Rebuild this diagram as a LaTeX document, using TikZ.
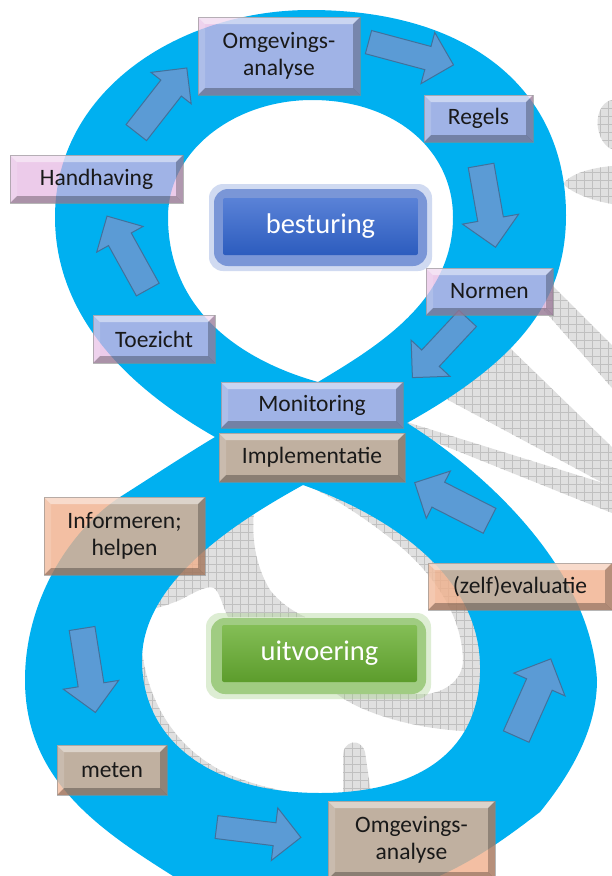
\documentclass[tikz,border=0pt]{standalone}
\usepackage{fontspec}
\setmainfont{Carlito}
\usetikzlibrary{shapes.arrows,patterns.meta}
\definecolor{cyan8}{HTML}{00B0F0}
\definecolor{lilac}{RGB}{229,181,226}
\definecolor{tanbox}{RGB}{240,176,140}
\definecolor{arrowfill}{HTML}{5B9BD5}
\definecolor{arrowline}{HTML}{41719C}
\definecolor{wmfill}{RGB}{224,224,224}
\definecolor{wmline}{RGB}{192,192,192}
\definecolor{bsglow}{RGB}{122,150,215}
\definecolor{bstop}{RGB}{90,130,215}
\definecolor{bsbot}{RGB}{44,92,190}
\definecolor{uvglow}{RGB}{160,204,130}
\definecolor{uvtop}{RGB}{132,190,86}
\definecolor{uvbot}{RGB}{92,156,44}
\newcommand\boxfont{\fontsize{23.5}{27.5}\selectfont}
\newcommand\bigfont{\fontsize{28.5}{32}\selectfont}
\tikzset{
 wm/.style={fill=wmfill,
   postaction={pattern={Lines[distance=8pt,angle=0,line width=0.6pt]},pattern color=wmline},
   postaction={pattern={Lines[distance=8pt,angle=90,line width=0.6pt]},pattern color=wmline}},
 bevel/.style={path picture={
   \fill[white,opacity=.45] (path picture bounding box.north west) -- (path picture bounding box.north east)
     -- ([xshift=-7pt,yshift=-7pt]path picture bounding box.north east) -- ([xshift=7pt,yshift=-7pt]path picture bounding box.north west) -- cycle;
   \fill[black,opacity=.28] (path picture bounding box.south west) -- (path picture bounding box.south east)
     -- ([xshift=-7pt,yshift=7pt]path picture bounding box.south east) -- ([xshift=7pt,yshift=7pt]path picture bounding box.south west) -- cycle;
   \fill[white,opacity=.15] (path picture bounding box.north west) -- (path picture bounding box.south west)
     -- ([xshift=7pt,yshift=7pt]path picture bounding box.south west) -- ([xshift=7pt,yshift=-7pt]path picture bounding box.north west) -- cycle;
   \fill[black,opacity=.25] (path picture bounding box.north east) -- (path picture bounding box.south east)
     -- ([xshift=-7pt,yshift=7pt]path picture bounding box.south east) -- ([xshift=-7pt,yshift=-7pt]path picture bounding box.north east) -- cycle;
 }},
 lbox/.style={rectangle, bevel, fill=lilac, fill opacity=.7, text opacity=1, draw=black!45, draw opacity=.6, line width=.6pt,
   inner sep=0pt, align=center, font=\boxfont, text=black!90},
 tbox/.style={lbox, fill=tanbox, fill opacity=.8},
 barrow/.style={shape=single arrow, fill=arrowfill, draw=arrowline, line width=1pt, inner xsep=0pt,
   minimum width=0pt, single arrow tip angle=90, anchor=tail},
 glowbox/.style={rectangle, rounded corners=14pt, inner sep=0pt, fill=#1},
 corebox/.style={rectangle, rounded corners=2pt, inner sep=0pt, text=white, font=\bigfont}
}
\begin{document}
\begin{tikzpicture}[x=1pt,y=-1pt]
\useasboundingbox (0,0) rectangle (612,876);
\clip (0,0) rectangle (612,876);
\fill[white] (0,0) rectangle (612,876);

% watermark (grey swirl)
\path[wm] (612,100) .. controls (600,102) and (596,118) .. (598,128) .. controls (600,140) and (606,147) .. (612,149) -- cycle;
\path[wm] (612,166) .. controls (590,168) and (570,174) .. (563,184) .. controls (575,195) and (595,201) .. (612,204) -- cycle;
\path[wm] (535,300) -- (552,285) -- (612,345) -- (612,388) -- cycle;
\path[wm] (470,340) -- (510,348) -- (612,447) -- (612,483) -- (603,483) -- (450,401) -- (440,395) -- cycle;
\path[wm] (400,420) -- (603,483) -- (612,483) -- (612,513) -- (400,428) -- cycle;
\path[wm] (257,478) -- (257,490) .. controls (250,525) and (252,560) .. (270,590) .. controls (282,605) and (295,612) .. (305,617)
  -- (228,617) .. controls (222,605) and (220,592) .. (214,588) .. controls (207,585) and (195,592) .. (180,600)
  .. controls (165,606) and (150,611) .. (125,614) -- (120,540) -- (200,480) -- cycle;
\path[wm] (300,470) -- (310,487) .. controls (340,500) and (390,535) .. (413,558) .. controls (440,585) and (462,620) .. (463,660)
  .. controls (463,680) and (445,692) .. (427,694) -- (337,694) .. controls (360,712) and (410,728) .. (463,731)
  -- (520,731) -- (520,600) -- (440,520) -- (330,470) -- cycle;
\path[wm] (110,640) -- (141,640) .. controls (145,700) and (175,750) .. (230,775) .. controls (260,787) and (285,792) .. (310,795)
  -- (310,820) -- (130,800) -- cycle;
\path[wm] (343,800) -- (343,755) .. controls (343,742) and (360,736) .. (365,752) -- (372,800) -- cycle;

% the blue eight
\fill[cyan8, even odd rule]
 (215,437) .. controls (150,400) and (55,330) .. (55,217)
 .. controls (55,90) and (180,10) .. (310,10)
 .. controls (470,10) and (566,90) .. (566,215)
 .. controls (566,300) and (520,360) .. (407,423)
 .. controls (470,462) and (590,560) .. (597,680)
 .. controls (597,730) and (570,775) .. (540,812)
 .. controls (490,850) and (420,905) .. (300,905)
 .. controls (230,905) and (190,890) .. (173,876)
 .. controls (100,830) and (25,780) .. (25,680)
 .. controls (25,600) and (70,530) .. (120,497)
 .. controls (150,478) and (185,455) .. (215,437) -- cycle
 (318,382) .. controls (240,360) and (168,310) .. (168,217)
 .. controls (168,150) and (235,100) .. (312,100)
 .. controls (395,100) and (453,150) .. (453,217)
 .. controls (453,300) and (380,345) .. (318,382) -- cycle
 (303,485) .. controls (360,505) and (478,560) .. (480,665)
 .. controls (482,750) and (420,793) .. (320,793)
 .. controls (210,793) and (142,740) .. (142,660)
 .. controls (142,580) and (240,520) .. (303,485) -- cycle;

% block arrows
\node[barrow, minimum height=88pt, inner ysep=11.5pt, single arrow head extend=14.5pt, rotate=-15] (a1) at (368,42) {};
\node[barrow, minimum height=83pt, inner ysep=12.5pt, single arrow head extend=15.5pt, rotate=-80] (a2) at (481,165) {};
\node[barrow, minimum height=81pt, inner ysep=11.5pt, single arrow head extend=14.5pt, rotate=-133] (a3) at (468,318) {};
\node[barrow, minimum height=84pt, inner ysep=12.5pt, single arrow head extend=13.5pt, rotate=119] (a4) at (148,290) {};
\node[barrow, minimum height=82pt, inner ysep=12.5pt, single arrow head extend=12.5pt, rotate=52] (a5) at (136,133) {};
\node[barrow, minimum height=84pt, inner ysep=13.5pt, single arrow head extend=12.5pt, rotate=153] (a6) at (490,521) {};
\node[barrow, minimum height=85pt, inner ysep=12.5pt, single arrow head extend=15pt, rotate=-81] (a7) at (82,628) {};
\node[barrow, minimum height=85pt, inner ysep=11pt, single arrow head extend=15pt, rotate=-7] (a8) at (216,827) {};
\node[barrow, minimum height=85pt, inner ysep=13.5pt, single arrow head extend=14pt, rotate=66] (a9) at (516,737) {};

% central labels
\node[glowbox=bsglow, opacity=.35, minimum width=223pt, minimum height=87pt] (bsg0) at (320.5,227.5) {};
\node[glowbox=bsglow, minimum width=213pt, minimum height=77pt] (bsg) at (320.5,227.5) {};
\node[corebox, top color=bstop, bottom color=bsbot, minimum width=195pt, minimum height=57pt] (besturing) at (320.5,226.5) {besturing};
\node[glowbox=uvglow, opacity=.35, minimum width=225pt, minimum height=86pt] (uvg0) at (318.5,656) {};
\node[glowbox=uvglow, minimum width=215pt, minimum height=76pt] (uvg) at (318.5,656) {};
\node[corebox, top color=uvtop, bottom color=uvbot, minimum width=195pt, minimum height=57pt] (uitvoering) at (319.5,653.5) {uitvoering};

% boxes
\node[lbox, minimum width=162pt, minimum height=78pt] (omg1) at (279,56) {Omgevings-\\analyse};
\node[lbox, minimum width=109pt, minimum height=47pt] (regels) at (478.5,118.5) {Regels};
\node[lbox, minimum width=173pt, minimum height=48pt] (handh) at (96.5,179) {Handhaving};
\node[lbox, minimum width=127pt, minimum height=47pt] (normen) at (489.5,291.5) {Normen};
\node[lbox, minimum width=122pt, minimum height=48pt] (toez) at (154,339) {Toezicht};
\node[lbox, minimum width=182pt, minimum height=46pt] (monit) at (312,405) {Monitoring};
\node[tbox, minimum width=186pt, minimum height=49pt] (impl) at (312,457.5) {Implementatie};
\node[tbox, minimum width=161pt, minimum height=78pt] (inform) at (124.5,536) {Informeren;\\helpen};
\node[tbox, minimum width=184pt, minimum height=47pt] (zelf) at (520,586.5) {(zelf)evaluatie};
\node[tbox, minimum width=110pt, minimum height=50pt] (meten) at (112,770) {meten};
\node[tbox, minimum width=167pt, minimum height=78pt] (omg2) at (411.5,840) {Omgevings-\\analyse};
\end{tikzpicture}
\end{document}
